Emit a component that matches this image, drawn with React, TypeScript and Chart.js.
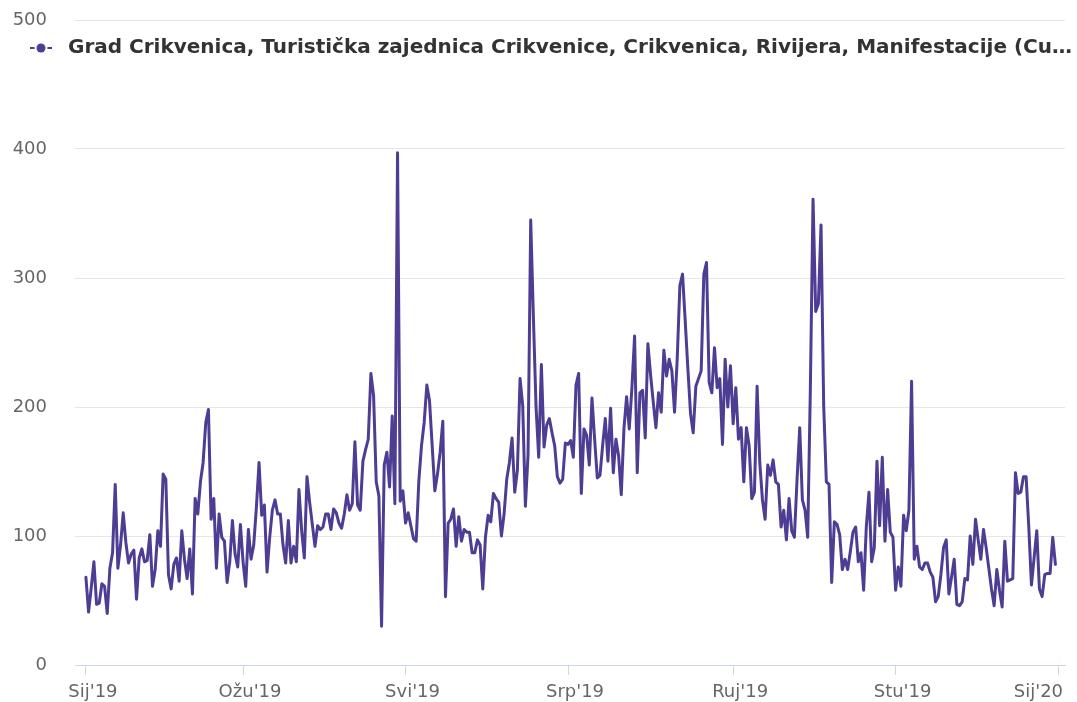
import { useEffect, useRef } from 'react';
import { Chart, registerables } from 'chart.js';

Chart.register(...registerables);

// Daily values, 1 Jan 2019 (index 0) to 31 Dec 2019 (index 364)
const dailyValues: number[] = [
  // Jan 1 - Feb 16
  68, 41, 60, 80, 47, 48, 63, 61, 40, 75,
  87, 140, 75, 93, 118, 95, 79, 86, 89, 51,
  83, 90, 80, 81, 101, 61, 74, 104, 92, 148,
  144, 70, 59, 78, 83, 65, 104, 82, 67, 90,
  55, 129, 117, 142, 157, 188, 198,
  // Feb 17 - Apr 3
  113, 129, 75, 117, 99, 96, 64, 80, 112, 86,
  76, 109, 80, 61, 105, 82, 93, 122, 157, 116,
  124, 72, 99, 120, 128, 117, 117, 93, 79, 112,
  79, 92, 80, 136, 104, 83, 146, 126, 109, 92,
  108, 105, 107, 117, 117, 105,
  // Apr 4 - May 20
  121, 118, 110, 106, 117, 132, 120, 125, 173, 124,
  120, 158, 167, 175, 226, 209, 142, 131, 30, 155,
  165, 138, 193, 125, 397, 127, 135, 110, 118, 108,
  98, 96, 143, 170, 188, 217, 205, 170, 135, 148,
  165, 189, 53, 110, 113, 121, 92,
  // May 21 - Jul 6
  115, 96, 105, 103, 103, 87, 87, 97, 93, 59,
  99, 116, 111, 133, 129, 126, 100, 117, 144, 157,
  176, 134, 151, 222, 201, 123, 163, 345, 270, 200,
  161, 233, 169, 186, 191, 180, 170, 146, 141, 144,
  172, 171, 174, 161, 217, 226, 133,
  // Jul 7 - Aug 22
  183, 178, 155, 207, 175, 145, 147, 170, 191, 158,
  199, 149, 175, 162, 132, 183, 208, 183, 215, 255,
  149, 211, 213, 176, 249, 225, 204, 184, 211, 196,
  244, 224, 237, 228, 196, 237, 294, 303, 267, 230,
  195, 180, 216, 222, 228, 303, 312,
  // Aug 23 - Oct 8
  219, 211, 246, 215, 222, 171, 237, 200, 232, 187,
  215, 175, 184, 142, 184, 170, 129, 134, 216, 157,
  128, 113, 155, 147, 159, 142, 140, 107, 120, 97,
  129, 104, 99, 144, 184, 128, 120, 99, 215, 361,
  274, 280, 341, 201, 142, 140, 64,
  // Oct 9 - Nov 24
  111, 109, 101, 74, 82, 74, 88, 103, 107, 80,
  87, 58, 107, 134, 80, 91, 158, 108, 161, 96,
  136, 103, 99, 58, 76, 61, 116, 104, 120, 220,
  82, 92, 76, 74, 79, 79, 72, 68, 49, 53,
  70, 91, 97, 55, 68, 82, 47,
  // Nov 25 - Dec 31
  46, 49, 67, 66, 100, 78, 113, 97, 82, 105,
  91, 75, 59, 46, 74, 58, 45, 96, 65, 66,
  67, 149, 133, 134, 146, 146, 107, 62, 83, 104,
  59, 53, 70, 71, 71, 99, 78,
];

// Month tick positions (day offset from 1 Jan 2019) and their labels
const tickDays: number[] = [0, 59, 120, 181, 243, 304, 365];
const tickLabels: string[] = ["Sij'19", "Ožu'19", "Svi'19", "Srp'19", "Ruj'19", "Stu'19", "Sij'20"];

const yTickValues: number[] = [0, 100, 200, 300, 400, 500];

const seriesName =
  'Grad Crikvenica, Turistička zajednica Crikvenice, Crikvenica, Rivijera, Manifestacije (Cu…';

const LINE_COLOR = '#4e3d93';
const FONT_FAMILY = '"DejaVu Sans", "Lucida Grande", sans-serif';
const AXIS_FONT = { size: 18, family: FONT_FAMILY };
const X_LABEL_PAD = 7;

const topLegendPlugin = {
  id: 'topLegend',
  afterDraw(chart: any) {
    const ctx: CanvasRenderingContext2D = chart.ctx;
    const ds = chart.data.datasets[0];
    const cy = 48;
    ctx.save();
    ctx.strokeStyle = ds.borderColor;
    ctx.lineWidth = 2;
    ctx.beginPath();
    ctx.moveTo(30, cy);
    ctx.lineTo(52, cy);
    ctx.stroke();
    ctx.fillStyle = '#ffffff';
    ctx.beginPath();
    ctx.arc(41, cy, 6.5, 0, Math.PI * 2);
    ctx.fill();
    ctx.fillStyle = ds.borderColor;
    ctx.beginPath();
    ctx.arc(41, cy, 4.5, 0, Math.PI * 2);
    ctx.fill();
    ctx.font = `bold 20px ${FONT_FAMILY}`;
    ctx.fillStyle = '#333333';
    ctx.textBaseline = 'middle';
    ctx.textAlign = 'left';
    let text: string = ds.label;
    const maxW = chart.width - 68 - 2;
    if (ctx.measureText(text).width > maxW) {
      let base = text.replace(/…$/, '');
      while (base.length > 1 && ctx.measureText(base + '…').width > maxW) {
        base = base.slice(0, -1);
      }
      text = base + '…';
    }
    ctx.fillText(text, 68, cy);

    // last x label, justified so it stays inside the canvas
    const xScale = chart.scales.x;
    const lastIdx = tickDays.length - 1;
    const px = xScale.getPixelForValue(tickDays[lastIdx]);
    ctx.font = `${AXIS_FONT.size}px ${FONT_FAMILY}`;
    ctx.fillStyle = '#666666';
    ctx.textAlign = 'right';
    ctx.textBaseline = 'middle';
    ctx.fillText(
      tickLabels[lastIdx],
      Math.min(px + 5, chart.width - 4),
      xScale.top + 10 + X_LABEL_PAD + (AXIS_FONT.size * 1.2) / 2
    );
    ctx.restore();
  },
};

export default function App() {
  const canvasRef = useRef<HTMLCanvasElement | null>(null);

  useEffect(() => {
    if (!canvasRef.current) return;
    const points = dailyValues.map((v, i) => ({ x: i, y: v }));
    const chart = new Chart(canvasRef.current, {
      type: 'line',
      data: {
        datasets: [
          {
            label: seriesName,
            data: points,
            borderColor: LINE_COLOR,
            backgroundColor: LINE_COLOR,
            borderWidth: 3,
            pointRadius: 0,
            pointHoverRadius: 0,
            tension: 0,
            borderJoinStyle: 'round',
            borderCapStyle: 'round',
            yAxisID: 'y',
          },
        ],
      },
      options: {
        animation: false,
        responsive: true,
        maintainAspectRatio: false,
        layout: { padding: { top: 20, right: 12, left: 0, bottom: 0 } },
        plugins: {
          legend: { display: false },
          tooltip: { enabled: false },
        },
        scales: {
          x: {
            type: 'linear',
            min: -4.1,
            max: 367.6,
            afterBuildTicks: (axis: any) => {
              axis.ticks = tickDays.map((v) => ({ value: v }));
            },
            afterFit: (scale: any) => {
              scale.height = 37;
              scale.paddingLeft = 0;
              scale.paddingRight = 0;
            },
            ticks: {
              autoSkip: false,
              maxRotation: 0,
              minRotation: 0,
              padding: X_LABEL_PAD,
              labelOffset: 7,
              color: '#666666',
              font: AXIS_FONT,
              callback: (value: any) => {
                const idx = tickDays.indexOf(Number(value));
                if (idx < 0 || idx === tickDays.length - 1) return '';
                return tickLabels[idx];
              },
            },
            grid: {
              display: true,
              drawOnChartArea: false,
              drawTicks: true,
              tickLength: 10,
              color: '#ccd6eb',
            },
            border: { display: true, color: '#ccd6eb', width: 1 },
          },
          y: {
            position: 'left',
            weight: 1,
            min: 0,
            max: 500,
            afterBuildTicks: (axis: any) => {
              axis.ticks = yTickValues.map((v) => ({ value: v }));
            },
            afterFit: (scale: any) => {
              scale.width = 47;
              scale.paddingTop = 0;
              scale.paddingBottom = 0;
            },
            ticks: {
              padding: 0,
              color: '#666666',
              font: AXIS_FONT,
            },
            grid: {
              drawTicks: false,
              lineWidth: 1,
              color: (ctx: any) => (ctx.tick && ctx.tick.value === 0 ? 'rgba(0,0,0,0)' : '#e6e6e6'),
            },
            border: { display: false },
          },
          yGap: {
            type: 'linear',
            position: 'left',
            weight: 0,
            min: 0,
            max: 500,
            ticks: { display: false },
            grid: { display: false, drawTicks: false },
            border: { display: false },
            afterFit: (scale: any) => {
              scale.width = 28;
              scale.paddingTop = 0;
              scale.paddingBottom = 0;
            },
          },
        },
      },
      plugins: [topLegendPlugin],
    });
    return () => chart.destroy();
  }, []);

  return (
    <div
      style={{
        position: 'absolute',
        left: 0,
        top: 0,
        width: '1077px',
        height: '702px',
        background: '#ffffff',
      }}
    >
      <canvas ref={canvasRef} />
    </div>
  );
}
